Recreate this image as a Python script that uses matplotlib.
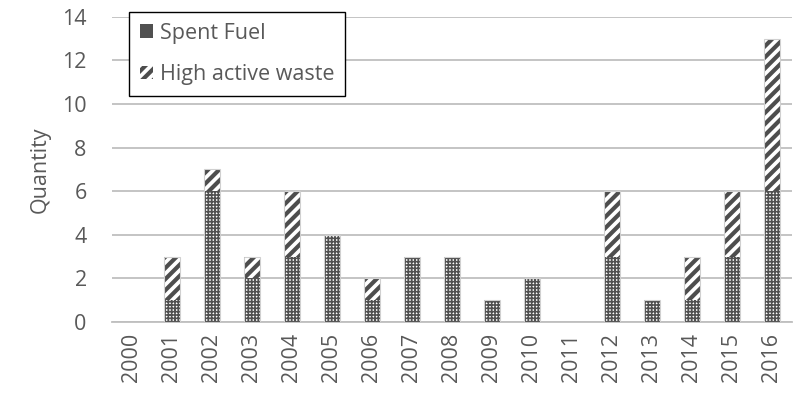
import matplotlib
matplotlib.use('Agg')
import matplotlib.pyplot as plt
import numpy as np

years = [str(y) for y in range(2000, 2017)]
spent_fuel = [0, 1, 6, 2, 3, 4, 1, 3, 3, 1, 2, 0, 3, 1, 1, 3, 6]
high_active = [0, 2, 1, 1, 3, 0, 1, 0, 0, 0, 0, 0, 3, 0, 2, 3, 7]

plt.rcParams['font.family'] = ['Open Sans', 'DejaVu Sans']
text_col = '#595959'
fs = 15.5

fig = plt.figure(figsize=(7.98, 4.01), dpi=100)
ax = fig.add_axes([0.140, 0.197, 0.852, 0.761])

x = np.arange(len(years))
w = 0.4
plt.rcParams['hatch.linewidth'] = 1.2
b1 = ax.bar(x, spent_fuel, w, color='white', edgecolor='#505050', linewidth=0,
            hatch='+++++', label='Spent Fuel', zorder=3)
plt.rcParams['hatch.linewidth'] = 3.0
b2 = ax.bar(x, high_active, w, bottom=spent_fuel, color='white', edgecolor='#4d4d4d',
            linewidth=0, hatch='///', label='High active waste', zorder=3)
# light outlines
ax.bar(x, np.array(spent_fuel) + np.array(high_active), w, color='none',
       edgecolor='#d0d0d0', linewidth=0.8, zorder=4)

ax.set_ylim(0, 14)
ax.set_xlim(-0.5, len(years) - 0.5)
ax.set_yticks(range(0, 15, 2))
ax.set_xticks(x)
ax.set_xticklabels(years, rotation=90)
ax.tick_params(axis='both', length=0, labelsize=fs, colors=text_col)
ax.tick_params(axis='y', pad=18)
ax.tick_params(axis='x', pad=8)
ax.yaxis.grid(True, color='#bfbfbf', linewidth=1.3, zorder=0)
ax.set_axisbelow(True)
for s in ['top', 'right', 'left']:
    ax.spines[s].set_visible(False)
ax.spines['bottom'].set_color('#bfbfbf')
ax.spines['bottom'].set_linewidth(1.3)
ax.set_ylabel('Quantity', fontsize=fs, color=text_col, labelpad=8)

leg = ax.legend(handles=[b1, b2], loc='upper left', bbox_to_anchor=(0.026, 1.016),
                borderaxespad=0, fontsize=fs, frameon=True, fancybox=False,
                edgecolor='black', framealpha=1, labelcolor=text_col,
                handlelength=0.6, handleheight=0.6, handletextpad=0.3,
                labelspacing=0.95, borderpad=0.5)
leg.get_frame().set_linewidth(1.0)
leg.set_zorder(5)

fig.savefig('out.png', dpi=100)
